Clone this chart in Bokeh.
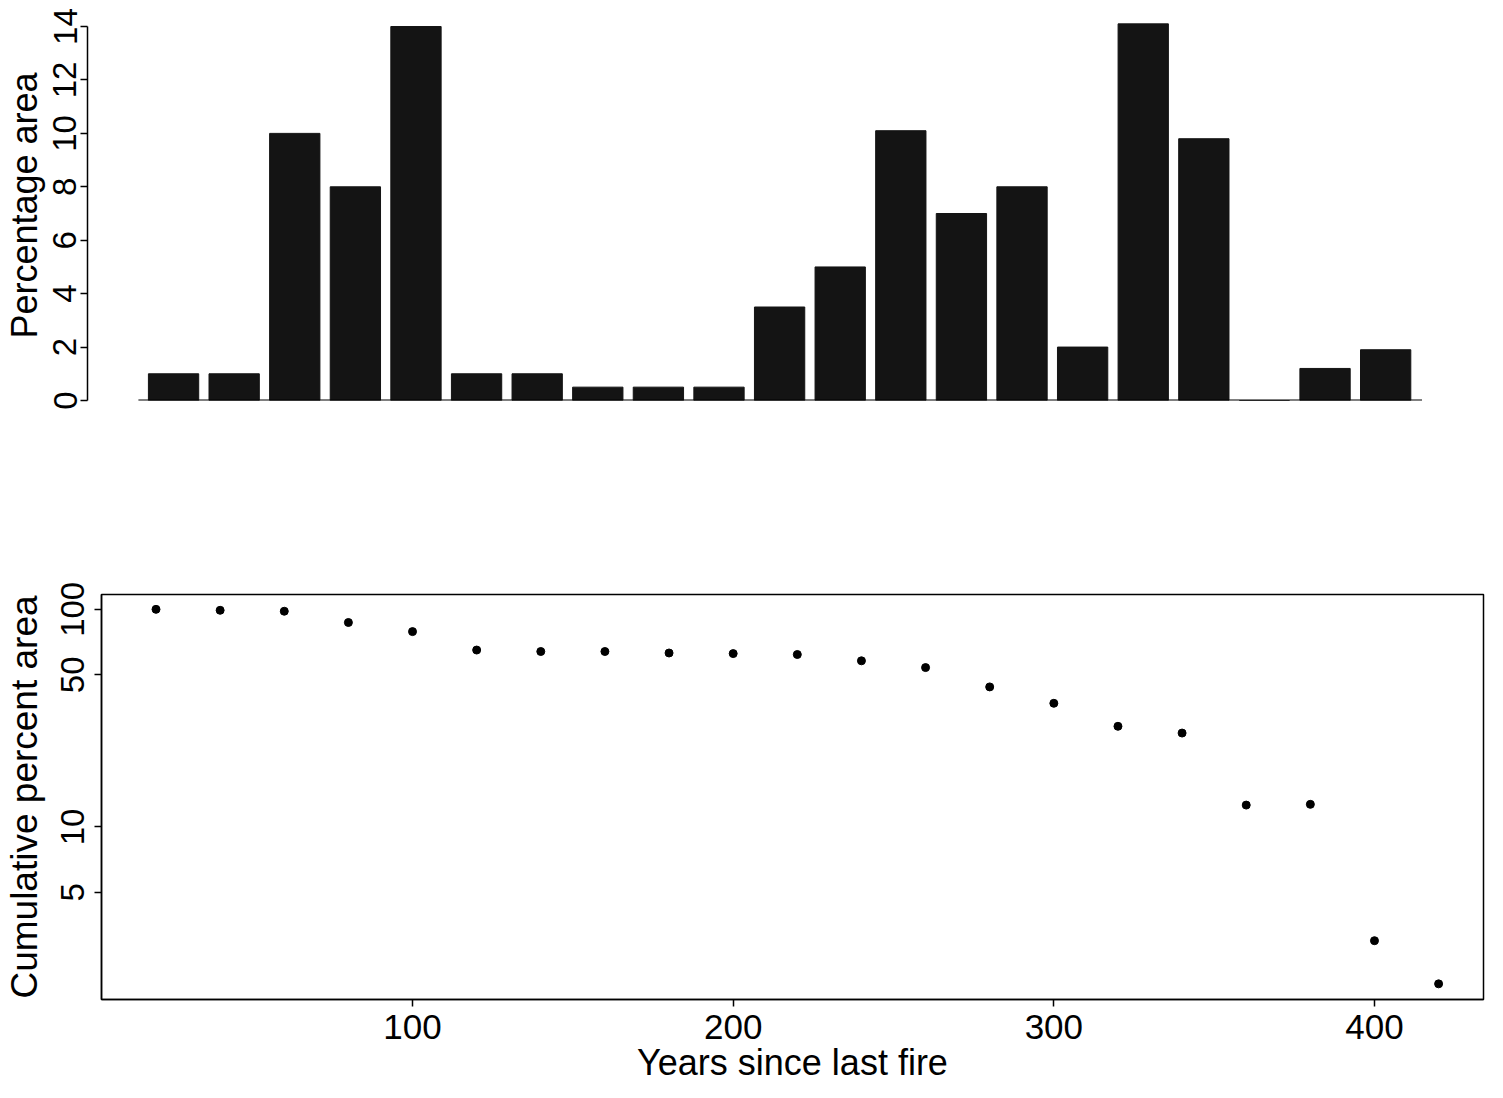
from bokeh.plotting import figure
from bokeh.layouts import column, row
from bokeh.models import Range1d, FixedTicker
from bokeh.embed import file_html
from bokeh.resources import INLINE

# ---- data ----
years = [20, 40, 60, 80, 100, 120, 140, 160, 180, 200, 220,
         240, 260, 280, 300, 320, 340, 360, 380, 400, 420]
pct_area = [1.0, 1.0, 10.0, 8.0, 14.0, 1.0, 1.0, 0.5, 0.5, 0.5, 3.5,
            5.0, 10.1, 7.0, 8.0, 2.0, 14.1, 9.8, 0.0, 1.2, 1.9]
cum_pct = [100, 99, 98, 87, 79, 65, 64, 64, 63, 62.6, 62,
           58, 54, 44, 37, 29, 27, 12.6, 12.7, 3.0, 1.9]
top_ticks = [0, 2, 4, 6, 8, 10, 12, 14]
bottom_y_ticks = [5, 10, 50, 100]
bottom_x_ticks = [100, 200, 300, 400]

FONT = "Liberation Sans"
step = years[1] - years[0]


def style_axis(ax, label_size, title_size, label_standoff, title_standoff):
    ax.major_label_text_font = FONT
    ax.major_label_text_font_size = label_size
    ax.major_label_text_color = "black"
    ax.axis_label_text_font = FONT
    ax.axis_label_text_font_size = title_size
    ax.axis_label_text_font_style = "normal"
    ax.axis_label_text_color = "black"
    ax.major_tick_out = 7
    ax.major_tick_in = 0
    ax.minor_tick_out = 0
    ax.minor_tick_in = 0
    ax.axis_line_width = 1.5
    ax.axis_line_color = "black"
    ax.major_tick_line_width = 1.5
    ax.major_tick_line_color = "black"
    ax.major_label_standoff = label_standoff
    ax.axis_label_standoff = title_standoff


# ---- top panel: bar chart ----
top = figure(frame_width=1343, frame_height=390,
             x_range=Range1d(years[0] - 1.42 * step, years[-1] + 0.74 * step),
             y_range=Range1d(0, 14.6),
             min_border_top=10, min_border_bottom=55, min_border_left=87, min_border_right=10,
             output_backend="svg", toolbar_location=None)
top.vbar(x=years, top=pct_area, width=0.83 * step, fill_color="#141414", line_color="#141414")
top.line(x=[years[0] - 0.58 * step, years[-1] + 0.6 * step], y=[0, 0],
         line_color="black", line_width=2)
top.xaxis.visible = False
top.grid.visible = False
top.outline_line_color = None
ya = top.yaxis[0]
ya.ticker = FixedTicker(ticks=top_ticks)
ya.bounds = (top_ticks[0], top_ticks[-1])
ya.axis_label = "Percentage area"
ya.major_label_orientation = "vertical"
style_axis(ya, "33px", "36px", 4, 6)

# ---- bottom panel: cumulative, log scale ----
bot = figure(frame_width=1382, frame_height=405,
             x_range=Range1d(3, 434), y_range=Range1d(1.61, 117),
             y_axis_type="log",
             min_border_top=139, min_border_bottom=0, min_border_left=101, min_border_right=10,
             output_backend="svg", toolbar_location=None)
bot.scatter(x=years, y=cum_pct, size=8, fill_color="black", line_color="black")
bot.grid.visible = False
bot.outline_line_color = "black"
bot.outline_line_width = 1.5
bot.xaxis.ticker = FixedTicker(ticks=bottom_x_ticks)
bot.yaxis.ticker = FixedTicker(ticks=bottom_y_ticks)
bot.xaxis.axis_label = "Years since last fire"
bot.yaxis.axis_label = "Cumulative percent area"
bot.yaxis.major_label_orientation = "vertical"
style_axis(bot.xaxis[0], "35px", "36px", 8, 0)
style_axis(bot.yaxis[0], "33px", "37px", 10, 14)

layout = column(row(top), row(bot), spacing=0)
open("out.html", "w").write(file_html(layout, INLINE))
